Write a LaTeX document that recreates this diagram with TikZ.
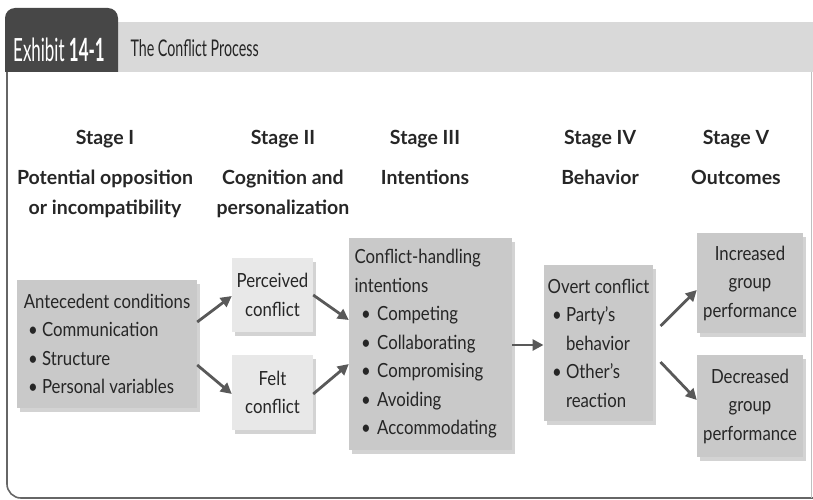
\documentclass[tikz,border=0pt]{standalone}
\usepackage{fontspec}
\setmainfont{Lato}[FakeStretch=0.86, BoldFeatures={FakeStretch=1}]
\newfontfamily\titlefont{Lato}[FakeStretch=0.62]
\newfontfamily\tabfont{Lato}[FakeStretch=0.53, BoldFeatures={FakeStretch=0.53}]
\usetikzlibrary{arrows.meta,shadows}

\tikzset{
    stagebox/.style={fill=gray!42, minimum width=#1, inner sep=4pt,
        drop shadow={shadow xshift=3pt, shadow yshift=-4pt, opacity=0.35, fill=gray}},
    lightbox/.style={stagebox=#1, fill=gray!18},
    head/.style={font=\bfseries\fontsize{19.5}{30}\selectfont, align=center, anchor=base},
    flow/.style={-{Triangle[length=11pt,width=11pt]}, line width=2.8pt, draw=black!65}
}

\begin{document}
\begin{tikzpicture}[x=1pt, y=-1pt, every node/.style={font=\fontsize{19.5}{28.5}\selectfont, text=black!85}]
    \useasboundingbox (0,0) rectangle (813,500);
    % Define frame and title
        \fill[gray!30] (118,22) rectangle (813,72);
        \draw[black!60, line width=1.6pt] (7,72) [rounded corners=14pt] -- (7,498) -- (813,498);
        \draw[black!25, line width=0.8pt] (811,72) -- (811,498);
        \fill[black!72] (5,72) [rounded corners=10pt] -- (5,8) -- (118,8) [sharp corners] -- (118,72) -- cycle;
        \node[text=white, font=\tabfont\fontsize{32}{34}\selectfont, anchor=base] (tab) at (59,62) {Exhibit \textbf{14-1}};
        \node[anchor=base west, font=\titlefont\fontsize{23}{25}\selectfont] (title) at (127,57) {The Conflict Process};
    % Define stage headers
        \node[head] (s1) at (105,214) {Stage I\\[10pt]Potential opposition\\or incompatibility};
        \node[head] (s2) at (283,214) {Stage II\\[10pt]Cognition and\\personalization};
        \node[head] (s3) at (425,184) {Stage III\\[10pt]Intentions};
        \node[head] (s4) at (600,184) {Stage IV\\[10pt]Behavior};
        \node[head] (s5) at (736,184) {Stage V\\[10pt]Outcomes};
    % Define boxes
        \node[stagebox=180pt, minimum height=128pt, align=left] (ante) at (107,344)
            {Antecedent conditions\\\ \textbullet\ Communication\\\ \textbullet\ Structure\\\ \textbullet\ Personal variables};
        \node[lightbox=81pt, minimum height=74pt, align=center] (perc) at (272.5,295) {Perceived\\conflict};
        \node[lightbox=81pt, minimum height=75pt, align=center] (felt) at (272.5,392.5) {Felt\\conflict};
        \node[stagebox=163pt, minimum height=212pt, align=left, text width=152pt] (intent) at (430.5,344)
            {Conflict-handling\\intentions\\\ \textbullet\ Competing\\\ \textbullet\ Collaborating\\\ \textbullet\ Compromising\\\ \textbullet\ Avoiding\\\ \textbullet\ Accommodating};
        \node[stagebox=107pt, minimum height=156pt, align=left] (overt) at (598.5,343)
            {Overt conflict\\\ \textbullet\ Party's\\\phantom{\ \textbullet\ }behavior\\\ \textbullet\ Other's\\\phantom{\ \textbullet\ }reaction};
        \node[stagebox=106pt, minimum height=100pt, align=center] (incr) at (750,283) {Increased\\group\\performance};
        \node[stagebox=106pt, minimum height=102pt, align=center] (decr) at (750,406) {Decreased\\group\\performance};
    % Draw arrows
        \draw[flow] (ante.east |- 0,322) -- (perc.west |- 0,296);
        \draw[flow] (ante.east |- 0,365) -- (felt.west |- 0,394);
        \draw[flow] (perc.east |- 0,295) -- (intent.west |- 0,320);
        \draw[flow] (felt.east |- 0,394) -- (intent.west |- 0,364);
        \draw[flow] (intent.east |- 0,345) -- (overt.west |- 0,345);
        \draw[flow] ([xshift=7pt]overt.east |- 0,326) -- (incr.west |- 0,290);
        \draw[flow] ([xshift=7pt]overt.east |- 0,362) -- (decr.west |- 0,400);
\end{tikzpicture}
\end{document}
